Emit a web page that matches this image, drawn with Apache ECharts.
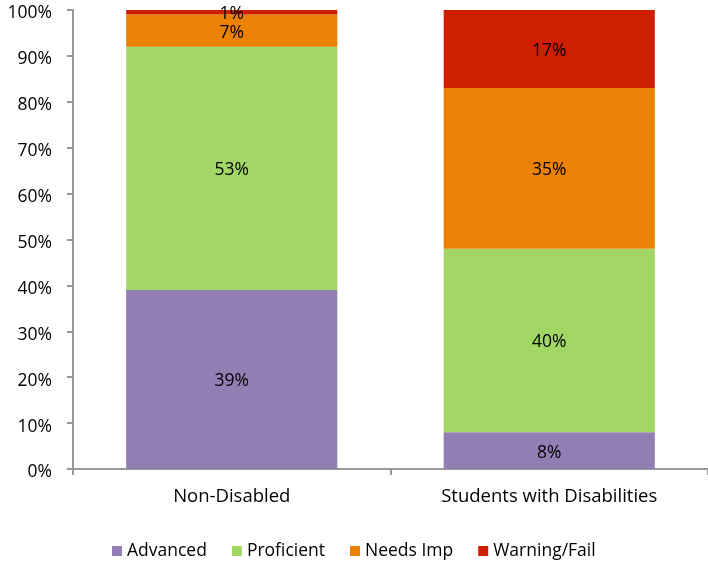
<!DOCTYPE html>
<html>
<head>
<meta charset="utf-8">
<script src="https://cdn.jsdelivr.net/npm/echarts@6/dist/echarts.min.js"></script>
<style>
  html, body { margin: 0; padding: 0; background: #fff; }
  #chart { width: 708px; height: 566px; }
</style>
</head>
<body>
<div id="chart"></div>
<script>
// Achievement levels by student group (percent of students)
const categories = ['Non-Disabled', 'Students with Disabilities'];
const advanced = [39, 8];
const proficient = [53, 40];
const needsImp = [7, 35];
const warningFail = [1, 17];
const yTicks = [0, 10, 20, 30, 40, 50, 60, 70, 80, 90, 100];

const FONT = '"Open Sans", Lato, sans-serif';

const seriesDefs = [
  { name: 'Advanced', data: advanced, color: '#937EB4' },
  { name: 'Proficient', data: proficient, color: '#A2D665' },
  { name: 'Needs Imp', data: needsImp, color: '#EC8205' },
  { name: 'Warning/Fail', data: warningFail, color: '#CE1F02' }
];

const chart = echarts.init(document.getElementById('chart'), null, { renderer: 'canvas' });

chart.setOption({
  animation: false,
  backgroundColor: '#fff',
  textStyle: { fontFamily: FONT },
  grid: { left: 73, right: -5, top: 10, bottom: 97 },
  legend: {
    bottom: 1,
    left: 107,
    itemWidth: 10,
    itemHeight: 10,
    itemGap: 25,
    icon: 'rect',
    textStyle: { fontFamily: FONT, fontSize: 17.5, color: '#000' },
    data: seriesDefs.map(s => s.name)
  },
  xAxis: {
    type: 'category',
    data: categories,
    axisLine: { lineStyle: { color: '#999', width: 2 } },
    axisTick: { show: true, length: 6, lineStyle: { color: '#999', width: 2 } },
    axisLabel: { color: '#000', fontSize: 18.5, fontFamily: FONT, margin: 18 }
  },
  yAxis: {
    type: 'value',
    min: yTicks[0],
    max: yTicks[yTicks.length - 1],
    interval: 10,
    splitLine: { show: false },
    axisLine: { show: true, lineStyle: { color: '#999', width: 2 } },
    axisTick: { show: true, length: 6, lineStyle: { color: '#999', width: 2 } },
    axisLabel: {
      margin: 21,
      formatter: v => '{t|' + v + '%}',
      rich: {
        t: { color: '#000', fontSize: 17.5, fontFamily: FONT, padding: [7, 0, 0, 0] }
      }
    }
  },
  series: seriesDefs.map(s => ({
    name: s.name,
    type: 'bar',
    stack: 'total',
    barWidth: '66.5%',
    data: s.data,
    itemStyle: { color: s.color },
    label: {
      show: true,
      position: 'inside',
      offset: [0, 2],
      color: '#000',
      fontSize: 17.5,
      fontFamily: FONT,
      formatter: p => p.value + '%'
    }
  }))
});
</script>
</body>
</html>
